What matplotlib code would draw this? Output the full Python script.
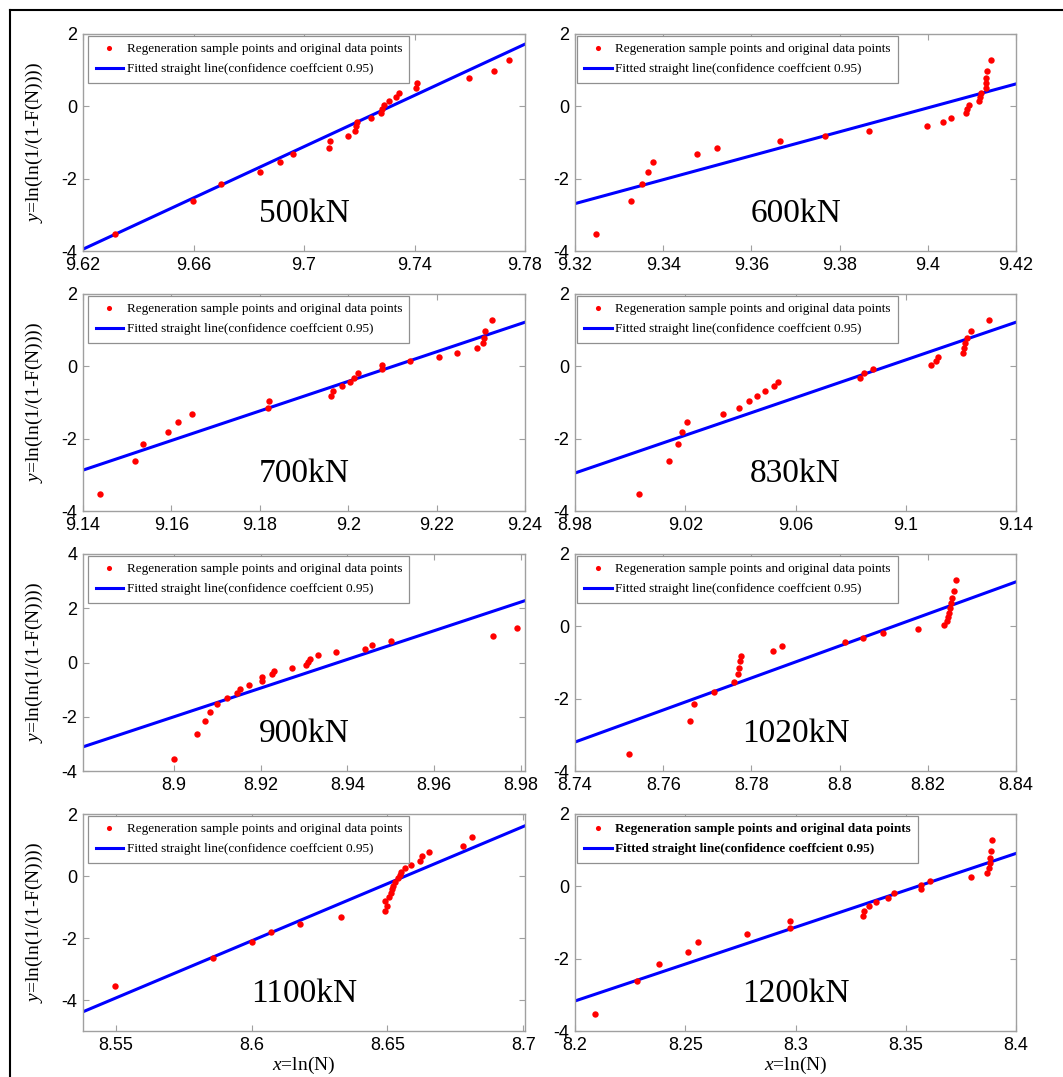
import matplotlib
matplotlib.use("Agg")
import matplotlib.pyplot as plt
from matplotlib.lines import Line2D
from matplotlib.ticker import FuncFormatter

plt.rcParams['axes.unicode_minus'] = False
plt.rcParams['mathtext.fontset'] = 'custom'
plt.rcParams['mathtext.it'] = 'Liberation Serif:italic'
plt.rcParams['mathtext.rm'] = 'Liberation Serif'

# ---------------- data ----------------
loads = ["500kN", "600kN", "700kN", "830kN", "900kN", "1020kN", "1100kN", "1200kN"]

y_rank = [-3.54, -2.63, -2.14, -1.81, -1.54, -1.32, -1.14, -0.97, -0.82, -0.68,
          -0.55, -0.43, -0.31, -0.19, -0.08, 0.03, 0.14, 0.26, 0.37, 0.50,
          0.64, 0.79, 0.98, 1.27]

x500 = [9.6317, 9.6598, 9.6701, 9.6841, 9.6913, 9.6960, 9.7089, 9.7094, 9.7158, 9.7184,
        9.7188, 9.7191, 9.7241, 9.7278, 9.7281, 9.7288, 9.7307, 9.7332, 9.7345, 9.7405,
        9.7410, 9.7597, 9.7686, 9.7741]
x600 = [9.3248, 9.3327, 9.3352, 9.3365, 9.3378, 9.3476, 9.3521, 9.3665, 9.3768, 9.3866,
        9.3999, 9.4035, 9.4053, 9.4087, 9.4090, 9.4094, 9.4117, 9.4119, 9.4120, 9.4131,
        9.4132, 9.4133, 9.4135, 9.4143]
x700 = [9.1439, 9.1518, 9.1536, 9.1592, 9.1615, 9.1647, 9.1819, 9.1820, 9.1961, 9.1965,
        9.1987, 9.2004, 9.2014, 9.2023, 9.2076, 9.2077, 9.2140, 9.2205, 9.2246, 9.2292,
        9.2305, 9.2307, 9.2310, 9.2326]
x830 = [9.0032, 9.0140, 9.0172, 9.0187, 9.0206, 9.0336, 9.0395, 9.0432, 9.0459, 9.0488,
        9.0523, 9.0538, 9.0834, 9.0850, 9.0882, 9.1092, 9.1110, 9.1116, 9.1209, 9.1210,
        9.1215, 9.1223, 9.1237, 9.1303]
x900 = [8.9000, 8.9052, 8.9072, 8.9083, 8.9099, 8.9122, 8.9146, 8.9152, 8.9172, 8.9202,
        8.9204, 8.9227, 8.9230, 8.9273, 8.9304, 8.9310, 8.9314, 8.9332, 8.9374, 8.9441,
        8.9458, 8.9500, 8.9735, 8.9791]
x1020 = [8.7522, 8.7660, 8.7670, 8.7716, 8.7760, 8.7770, 8.7773, 8.7774, 8.7776, 8.7848,
         8.7870, 8.8013, 8.8053, 8.8098, 8.8178, 8.8236, 8.8243, 8.8246, 8.8248, 8.8250,
         8.8252, 8.8256, 8.8260, 8.8263]
x1100 = [8.5498, 8.5860, 8.6000, 8.6071, 8.6177, 8.6328, 8.6490, 8.6498, 8.6491, 8.6507,
         8.6512, 8.6517, 8.6522, 8.6529, 8.6539, 8.6546, 8.6551, 8.6563, 8.6585, 8.6618,
         8.6627, 8.6653, 8.6778, 8.6810]
x1200 = [8.2091, 8.2280, 8.2379, 8.2511, 8.2556, 8.2778, 8.2975, 8.2975, 8.3304, 8.3310,
         8.3335, 8.3365, 8.3418, 8.3448, 8.3568, 8.3569, 8.3610, 8.3794, 8.3867, 8.3877,
         8.3882, 8.3882, 8.3885, 8.3889]

fit_x = [[9.62, 9.78], [9.32, 9.42], [9.14, 9.24], [8.98, 9.14],
         [8.879, 8.981], [8.74, 8.84], [8.538, 8.7006], [8.2, 8.4]]
fit_y = [[-3.95, 1.72], [-2.69, 0.62], [-2.87, 1.22], [-2.95, 1.22],
         [-3.11, 2.28], [-3.20, 1.23], [-4.38, 1.62], [-3.17, 0.91]]

x_ticks = [[9.62, 9.66, 9.70, 9.74, 9.78],
           [9.32, 9.34, 9.36, 9.38, 9.40, 9.42],
           [9.14, 9.16, 9.18, 9.20, 9.22, 9.24],
           [8.98, 9.02, 9.06, 9.10, 9.14],
           [8.90, 8.92, 8.94, 8.96, 8.98],
           [8.74, 8.76, 8.78, 8.80, 8.82, 8.84],
           [8.55, 8.60, 8.65, 8.70],
           [8.20, 8.25, 8.30, 8.35, 8.40]]
y_ticks = [[-4, -2, 0, 2]] * 4 + [[-4, -2, 0, 2, 4]] + [[-4, -2, 0, 2]] * 3
y_limits = [(-4, 2)] * 4 + [(-4, 4)] + [(-4, 2)] + [(-5, 2)] + [(-4, 2)]

all_x = [x500, x600, x700, x830, x900, x1020, x1100, x1200]

legend_pts = "Regeneration sample points and original data points"
legend_line = "Fitted straight line(confidence coeffcient 0.95)"

# ---------------- figure ----------------
W, H = 1063, 1077
fig = plt.figure(figsize=(W / 100, H / 100), dpi=100)

col_left = [83, 575]
col_w = [442, 441]
row_top = [34, 294, 554, 814]
ax_h = 217

serif = 'Liberation Serif'
sans = 'Liberation Sans'
spine_c = '#a0a0a0'

for i in range(8):
    r, c = divmod(i, 2)
    l = col_left[c] / W
    b = 1 - (row_top[r] + ax_h) / H
    ax = fig.add_axes([l, b, col_w[c] / W, ax_h / H])
    ax.plot(all_x[i], y_rank, 'o', color='#ff0000', ms=4.6, mec='none',
            label=legend_pts, zorder=3)
    ax.plot(fit_x[i], fit_y[i], '-', color='#0000ff', lw=2.2,
            label=legend_line, zorder=2)
    ax.set_xlim(fit_x[i][0], fit_x[i][1])
    ax.set_ylim(*y_limits[i])
    ax.set_xticks(x_ticks[i])
    ax.set_yticks(y_ticks[i])
    ax.xaxis.set_major_formatter(FuncFormatter(lambda v, p: f"{round(v, 4):g}"))
    ax.yaxis.set_major_formatter(FuncFormatter(lambda v, p: f"{round(v, 4):g}"))
    ax.tick_params(direction='in', top=True, right=True, length=4, width=0.8,
                   color=spine_c, labelsize=13, pad=4)
    for lab in ax.get_xticklabels() + ax.get_yticklabels():
        lab.set_family(sans)
    for sp in ax.spines.values():
        sp.set_color(spine_c)
        sp.set_linewidth(1.0)

    bold = 'bold' if i == 7 else 'normal'
    leg = ax.legend(loc='upper left', bbox_to_anchor=(0.012 if c == 0 else 0.004, 0.992),
                    borderaxespad=0, frameon=True, fancybox=False, framealpha=1,
                    edgecolor='#909090', prop={'family': serif, 'size': 9.5, 'weight': bold},
                    handlelength=2.1, handletextpad=0.25, labelspacing=0.6,
                    borderpad=0.55, markerscale=0.8)
    leg.get_frame().set_linewidth(0.9)

    ax.text(0.5, 0.135, loads[i], transform=ax.transAxes, ha='center', va='baseline',
            fontsize=24, family=serif)

    if c == 0:
        ax.set_ylabel(r'$y$=ln(ln(1/(1-F(N))))', family=serif, fontsize=14)
        ax.yaxis.set_label_coords(-0.086, 0.5)
    if r == 3:
        ax.set_xlabel(r'$x$=ln(N)', family=serif, fontsize=14)
        ax.xaxis.set_label_coords(0.5, -0.108)

# outer frame lines (left and top)
fig.add_artist(Line2D([10 / W, 10 / W], [0, 1 - 10 / H], transform=fig.transFigure,
                      color='black', lw=1.5))
fig.add_artist(Line2D([10 / W, 1], [1 - 10 / H, 1 - 10 / H], transform=fig.transFigure,
                      color='black', lw=1.5))

fig.savefig('out.png', dpi=100)
